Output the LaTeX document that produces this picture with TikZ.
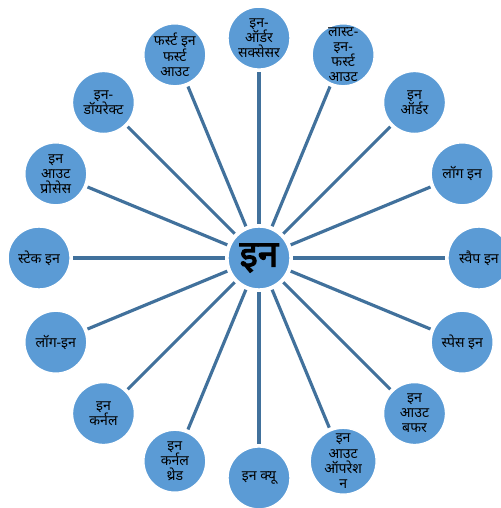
\documentclass[tikz,border=0pt]{standalone}
\usepackage{fontspec}
\setmainfont[Script=Devanagari]{Noto Sans}
\newfontfamily\hubfont[Script=Devanagari, FakeBold=3]{Noto Sans}
\usetikzlibrary{calc}
\definecolor{spoke}{HTML}{41719C}
\definecolor{bubble}{HTML}{5B9BD5}
\tikzset{
  hub/.style={circle, fill=bubble, draw=white, line width=0.8pt, minimum size=1.24cm, inner sep=0pt, font=\hubfont\fontsize{21}{21}\selectfont},
  leaf/.style={circle, fill=bubble, draw=white, line width=0.8pt, minimum size=1.24cm, inner sep=0pt, align=center, font=\fontsize{8}{8.6}\selectfont},
  spokeline/.style={draw=spoke, line width=1.8pt, shorten <=1.5pt, shorten >=1.5pt}
}

\begin{document}
\begin{tikzpicture}[x=0.02cm, y=-0.02cm]
\useasboundingbox (0,0) rectangle (501,508);
% hub
\node[hub] (hub) at (259,258) {इन};
% leaves, clockwise from the top
\foreach \lab [count=\i from 0] in {
  {इन-\\ऑर्डर\\सक्सेसर}, {लास्ट-\\इन-\\फर्स्ट\\आउट}, {इन\\ऑर्डर}, {लॉग इन},
  {स्वैप इन}, {स्पेस इन}, {इन\\आउट\\बफर}, {इन\\आउट\\ऑपरेश\\न},
  {इन क्यू}, {इन\\कर्नल\\थ्रेड}, {इन\\कर्नल}, {लॉग-इन},
  {स्टेक इन}, {इन\\आउट\\प्रोसेस}, {इन-\\डॉयरेक्ट}, {फर्स्ट इन\\फर्स्ट\\आउट}}{
  \node[leaf] (n\i) at ($(hub)+({90-22.5*\i}:4.4cm)$) {\lab};
  \draw[spokeline] (hub) -- (n\i);
}
\end{tikzpicture}
\end{document}
